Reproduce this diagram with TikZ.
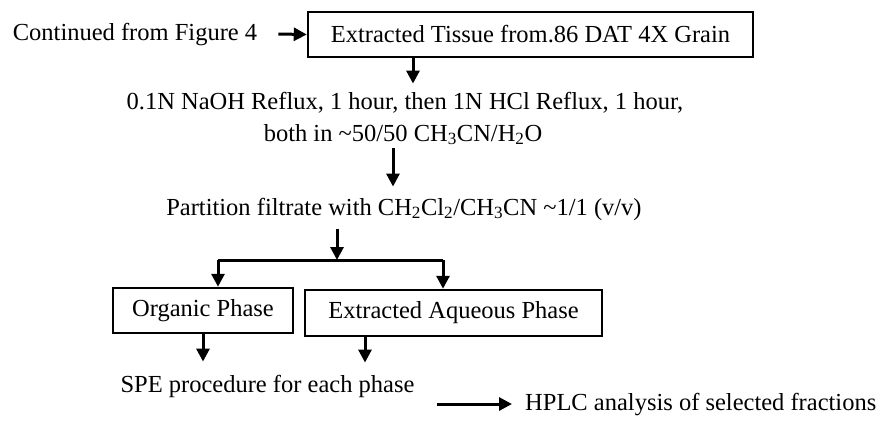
\documentclass[tikz,border=0pt]{standalone}
\usepackage{fontspec}
\setmainfont{Liberation Serif}
\usetikzlibrary{arrows.meta}

\tikzset{
  txt/.style={inner sep=0pt, font=\fontsize{24.5}{29}\selectfont},
  stepbox/.style={draw, line width=2.5pt, inner sep=0pt, font=\fontsize{24.5}{29}\selectfont},
  arr/.style={line width=3pt, -{Triangle[width=13pt,length=13pt]}},
  ln/.style={line width=3pt}
}

\begin{document}
\begin{tikzpicture}[x=1pt, y=-1pt]
\useasboundingbox (0,0) rectangle (884,421);

% nodes of the flow
\node[txt, anchor=base] (cont) at (135,40) {Continued from Figure 4};
\node[stepbox, minimum width=445pt, minimum height=45pt] (tissue) at (530.5,34.5) {Extracted Tissue from.86 DAT 4X Grain};
\node[txt, anchor=base] (reflux) at (405,109) {0.1N NaOH Reflux, 1 hour, then 1N HCl Reflux, 1 hour,};
\node[txt, anchor=base] (solvent) at (403,141) {both in \textasciitilde50/50 CH\textsubscript{3}CN/H\textsubscript{2}O};
\node[txt, anchor=base] (part) at (404,215) {Partition filtrate with CH\textsubscript{2}Cl\textsubscript{2}/CH\textsubscript{3}CN \textasciitilde1/1 (v/v)};
\node[stepbox, minimum width=180pt, minimum height=45pt] (org) at (203,310.5) {Organic Phase};
\node[stepbox, minimum width=297pt, minimum height=46pt] (aq) at (453.5,313) {Extracted Aqueous Phase};
\node[txt, anchor=base] (spe) at (267.5,392) {SPE procedure for each phase};
\node[txt, anchor=base west] (hplc) at (525,410) {HPLC analysis of selected fractions};

\coordinate (split) at (337,260);

% connectors
\draw[arr] ([xshift=21pt]cont.east) -- (tissue.west);
\draw[arr, shorten >=8pt] ([xshift=-117.5pt]tissue.south) -- ([xshift=-117.5pt]tissue.south |- reflux.north);
\draw[arr, shorten <=3pt, shorten >=11pt] ([xshift=-10pt]solvent.south) -- ([xshift=-10pt]solvent.south |- part.north);
\draw[arr, shorten <=9pt] ([xshift=-67pt]part.south) -- (split);
\draw[ln] ([xshift=15pt]org.north |- split) -- ([xshift=-10.5pt]aq.north |- split);
\draw[arr] ([xshift=15pt]org.north |- split) -- ([xshift=15pt]org.north);
\draw[arr] ([xshift=-10.5pt]aq.north |- split) -- ([xshift=-10.5pt]aq.north);
\draw[arr, shorten >=13pt] (org.south) -- (org.south |- spe.north);
\draw[arr, shorten >=12pt] ([xshift=-88.5pt]aq.south) -- ([xshift=-88.5pt]aq.south |- spe.north);
\draw[arr] ([xshift=22pt]spe.east |- hplc.west) -- ([xshift=-13pt]hplc.west);
\end{tikzpicture}
\end{document}
